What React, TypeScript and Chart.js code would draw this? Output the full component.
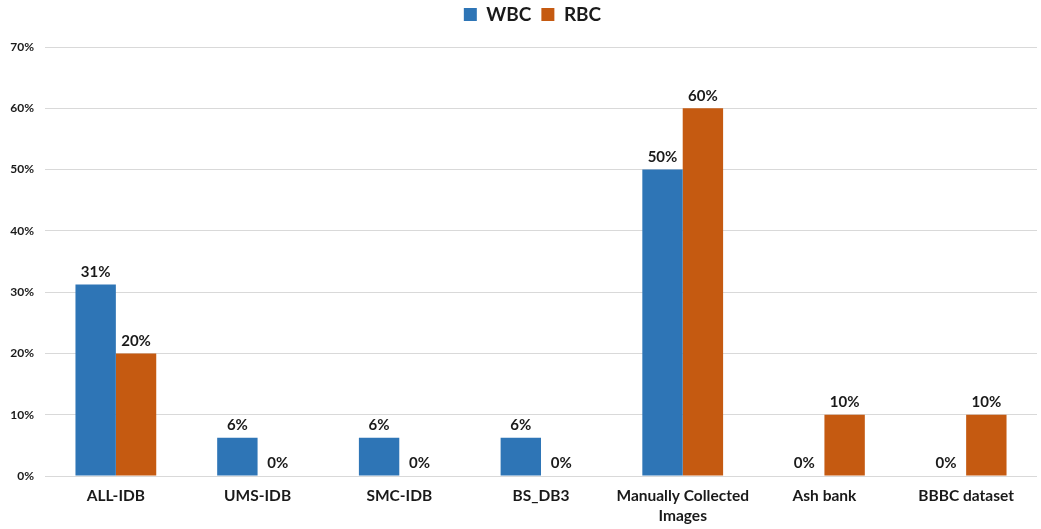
import React, { useEffect, useRef } from "react";
import { Chart, registerables } from "chart.js";

Chart.register(...registerables);

const categories: (string | string[])[] = [
  "ALL-IDB",
  "UMS-IDB",
  "SMC-IDB",
  "BS_DB3",
  ["Manually Collected", "Images"],
  "Ash bank",
  "BBBC dataset",
];
const wbcValues = [31.25, 6.25, 6.25, 6.25, 50, 0, 0];
const rbcValues = [20, 0, 0, 0, 60, 10, 10];
const seriesNames = ["WBC", "RBC"];
const yTicks = [0, 10, 20, 30, 40, 50, 60, 70];

const FONT = "Lato, 'Open Sans', sans-serif";
const TEXT = "#1a1a1a";

// Writes each bar's percentage just above its top edge
const valueLabels = {
  id: "valueLabels",
  afterDatasetsDraw(chart: any) {
    const ctx = chart.ctx;
    ctx.save();
    ctx.font = `bold 15px ${FONT}`;
    ctx.fillStyle = TEXT;
    ctx.textAlign = "center";
    ctx.textBaseline = "bottom";
    chart.data.datasets.forEach((ds: any, i: number) => {
      const meta = chart.getDatasetMeta(i);
      meta.data.forEach((bar: any, j: number) => {
        const v = ds.data[j] as number;
        ctx.fillText(`${Math.round(v)}%`, bar.x, bar.y - 5);
      });
    });
    ctx.restore();
  },
};

// Keeps the legend close to the top edge with room below it
const legendSpacing = {
  id: "legendSpacing",
  beforeInit(chart: any) {
    const legend = chart.legend;
    if (!legend) return;
    const origFit = legend.fit;
    legend.fit = function () {
      origFit.call(this);
      this.height += 8;
    };
  },
  afterLayout(chart: any) {
    const legend = chart.legend;
    if (!legend) return;
    legend.left += 9;
    legend.right += 9;
    legend.top -= 5;
    legend.bottom -= 5;
  },
};

export default function App() {
  const canvasRef = useRef<HTMLCanvasElement | null>(null);

  useEffect(() => {
    document.body.style.margin = "0";
    const canvas = canvasRef.current;
    if (!canvas) return;
    const chart = new Chart(canvas, {
      type: "bar",
      data: {
        labels: categories,
        datasets: [
          {
            label: seriesNames[0],
            data: wbcValues,
            backgroundColor: "#2E75B6",
            categoryPercentage: 0.57,
            barPercentage: 1,
          },
          {
            label: seriesNames[1],
            data: rbcValues,
            backgroundColor: "#C55A11",
            categoryPercentage: 0.57,
            barPercentage: 1,
          },
        ],
      },
      options: {
        animation: false,
        responsive: false,
        maintainAspectRatio: false,
        layout: { padding: { left: 10, right: 4, top: 0, bottom: 0 } },
        plugins: {
          tooltip: { enabled: false },
          legend: {
            position: "top",
            labels: {
              boxWidth: 13,
              boxHeight: 13,
              padding: 10,
              color: TEXT,
              font: { family: FONT, size: 19, weight: "bold" },
            },
          },
        },
        scales: {
          x: {
            grid: { display: false, drawTicks: false },
            border: { display: false },
            afterFit: (axis: any) => {
              axis.height = 53;
            },
            ticks: {
              color: TEXT,
              padding: 10,
              maxRotation: 0,
              autoSkip: false,
              font: { family: FONT, size: 15.5, weight: "bold", lineHeight: 1.3 },
            },
          },
          y: {
            min: 0,
            max: 70,
            afterBuildTicks: (axis: any) => {
              axis.ticks = yTicks.map((v) => ({ value: v }));
            },
            afterFit: (axis: any) => {
              axis.width = 35;
            },
            grid: { color: "#d9d9d9", lineWidth: 1, drawTicks: false },
            border: { display: false },
            ticks: {
              color: TEXT,
              padding: 11,
              font: { family: FONT, size: 12, weight: "bold" },
              callback: (v: any) => `${v}%`,
            },
          },
        },
      },
      plugins: [valueLabels, legendSpacing],
    });
    return () => chart.destroy();
  }, []);

  return (
    <div style={{ width: 1041, height: 529 }}>
      <canvas ref={canvasRef} width={1041} height={529} style={{ display: "block" }} />
    </div>
  );
}
